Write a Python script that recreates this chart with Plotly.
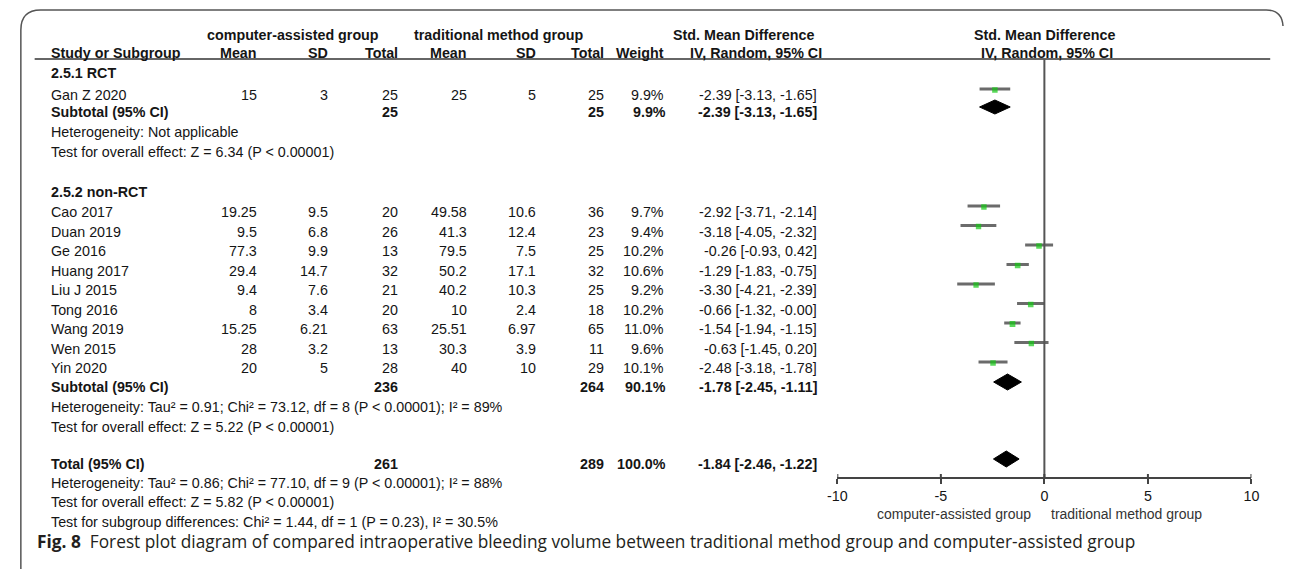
import plotly.graph_objects as go

# ---- data -------------------------------------------------------------
rct_names = ["Gan Z 2020"]
rct_mean_ca = [15]
rct_sd_ca = [3]
rct_n_ca = [25]
rct_mean_tr = [25]
rct_sd_tr = [5]
rct_n_tr = [25]
rct_weight = [9.9]
rct_smd = [-2.39]
rct_lo = [-3.13]
rct_hi = [-1.65]

nrct_names = ["Cao 2017", "Duan 2019", "Ge 2016", "Huang 2017", "Liu J 2015",
              "Tong 2016", "Wang 2019", "Wen 2015", "Yin 2020"]
nrct_mean_ca = [19.25, 9.5, 77.3, 29.4, 9.4, 8, 15.25, 28, 20]
nrct_sd_ca = [9.5, 6.8, 9.9, 14.7, 7.6, 3.4, 6.21, 3.2, 5]
nrct_n_ca = [20, 26, 13, 32, 21, 20, 63, 13, 28]
nrct_mean_tr = [49.58, 41.3, 79.5, 50.2, 40.2, 10, 25.51, 30.3, 40]
nrct_sd_tr = [10.6, 12.4, 7.5, 17.1, 10.3, 2.4, 6.97, 3.9, 10]
nrct_n_tr = [36, 23, 25, 32, 25, 18, 65, 11, 29]
nrct_weight = [9.7, 9.4, 10.2, 10.6, 9.2, 10.2, 11.0, 9.6, 10.1]
nrct_smd = [-2.92, -3.18, -0.26, -1.29, -3.30, -0.66, -1.54, -0.63, -2.48]
nrct_lo = [-3.71, -4.05, -0.93, -1.83, -4.21, -1.32, -1.94, -1.45, -3.18]
nrct_hi = [-2.14, -2.32, 0.42, -0.75, -2.39, -0.0, -1.15, 0.20, -1.78]

# pooled rows: RCT subtotal, non-RCT subtotal, overall total
pooled_labels = ["Subtotal (95% CI)", "Subtotal (95% CI)", "Total (95% CI)"]
pooled_n_ca = [25, 236, 261]
pooled_n_tr = [25, 264, 289]
pooled_weight = [9.9, 90.1, 100.0]
pooled_smd = [-2.39, -1.78, -1.84]
pooled_lo = [-3.13, -2.45, -2.46]
pooled_hi = [-1.65, -1.11, -1.22]

axis_ticks = [-10, -5, 0, 5, 10]

# ---- page geometry (pixels) -------------------------------------------
W, H = 1292, 569
ROW_RCT_STUDY = 95
ROW_NRCT_FIRST = 212
ROW_STEP = 19.5
ROW_POOLED = [112, 387, 464]
MARK_SHIFT = -6          # forest marks sit slightly above the text row centre
AXIS_Y = 478
COL_RIGHT = [253, 325, 395, 465, 535, 604, 665, 820]
TEXT_LEFT = 40
FONT = "Liberation Sans, Arial, sans-serif"
FS = 14.3
INK = "#151515"

rct_rows = [ROW_RCT_STUDY]
nrct_rows = [ROW_NRCT_FIRST + i * ROW_STEP for i in range(len(nrct_names))]

fig = go.Figure()
annotations = []
shapes = []


def txt(x, y, s, anchor="left", bold=False, size=FS, color=INK, family=FONT):
    annotations.append(dict(
        x=x, y=y, xref="x", yref="y", text=f"<b>{s}</b>" if bold else s,
        showarrow=False, xanchor=anchor, yanchor="middle",
        font=dict(family=family, size=size, color=color)))


def fmt(v):
    return f"{v:g}"


def ci_text(m, lo, hi):
    return f"{m:.2f} [{lo:.2f}, {hi:.2f}]"


# ---- headers ------------------------------------------------------------
txt(287, 35, "computer-assisted group", "center", True)
txt(495, 35, "traditional method group", "center", True)
txt(744, 35, "Std. Mean Difference", "center", True)
txt(1049, 35, "Std. Mean Difference", "center", True)
txt(TEXT_LEFT, 53, "Study or Subgroup", "left", True)
for x, lab in zip(COL_RIGHT[:7], ["Mean", "SD", "Total", "Mean", "SD", "Total", "Weight"]):
    txt(x, 53, lab, "right", True)
txt(757, 53, "IV, Random, 95% CI", "center", True)
txt(1052, 53, "IV, Random, 95% CI", "center", True)


# ---- study rows ---------------------------------------------------------
def study_block(rows, names, m1, s1, n1, m2, s2, n2, w, smd, lo, hi):
    for i, y in enumerate(rows):
        txt(TEXT_LEFT, y, names[i])
        vals = [fmt(m1[i]), fmt(s1[i]), fmt(n1[i]), fmt(m2[i]), fmt(s2[i]),
                fmt(n2[i]), f"{w[i]:.1f}%", ci_text(smd[i], lo[i], hi[i])]
        for x, v in zip(COL_RIGHT, vals):
            txt(x, y, v, "right")


txt(TEXT_LEFT, 73, "2.5.1 RCT", bold=True)
study_block(rct_rows, rct_names, rct_mean_ca, rct_sd_ca, rct_n_ca, rct_mean_tr,
            rct_sd_tr, rct_n_tr, rct_weight, rct_smd, rct_lo, rct_hi)
txt(TEXT_LEFT, 132, "Heterogeneity: Not applicable")
txt(TEXT_LEFT, 152, "Test for overall effect: Z = 6.34 (P &lt; 0.00001)")

txt(TEXT_LEFT, 192, "2.5.2 non-RCT", bold=True)
study_block(nrct_rows, nrct_names, nrct_mean_ca, nrct_sd_ca, nrct_n_ca, nrct_mean_tr,
            nrct_sd_tr, nrct_n_tr, nrct_weight, nrct_smd, nrct_lo, nrct_hi)
txt(TEXT_LEFT, 407, "Heterogeneity: Tau\u00b2 = 0.91; Chi\u00b2 = 73.12, df = 8 (P &lt; 0.00001); I\u00b2 = 89%")
txt(TEXT_LEFT, 427, "Test for overall effect: Z = 5.22 (P &lt; 0.00001)")

for j, y in enumerate(ROW_POOLED):
    txt(TEXT_LEFT, y, pooled_labels[j], bold=True)
    txt(COL_RIGHT[2], y, fmt(pooled_n_ca[j]), "right", True)
    txt(COL_RIGHT[5], y, fmt(pooled_n_tr[j]), "right", True)
    txt(COL_RIGHT[6] + 2, y, f"{pooled_weight[j]:.1f}%", "right", True)
    txt(COL_RIGHT[7], y, ci_text(pooled_smd[j], pooled_lo[j], pooled_hi[j]), "right", True)

txt(TEXT_LEFT, 483, "Heterogeneity: Tau\u00b2 = 0.86; Chi\u00b2 = 77.10, df = 9 (P &lt; 0.00001); I\u00b2 = 88%")
txt(TEXT_LEFT, 502, "Test for overall effect: Z = 5.82 (P &lt; 0.00001)")
txt(TEXT_LEFT, 522, "Test for subgroup differences: Chi\u00b2 = 1.44, df = 1 (P = 0.23), I\u00b2 = 30.5%")

# axis direction labels
txt(957, 514, "computer-assisted group", "center", size=14, color="#333")
txt(1132, 514, "traditional method group", "center", size=14, color="#333")

# caption
txt(25, 541, "<b>Fig. 8</b>  Forest plot diagram of compared intraoperative bleeding volume "
    "between traditional method group and computer-assisted group",
    "left", size=17.3, color="#231f20", family="Open Sans, Noto Sans, sans-serif")

# ---- forest marks -------------------------------------------------------
all_smd = rct_smd + nrct_smd
all_lo = rct_lo + nrct_lo
all_hi = rct_hi + nrct_hi
all_w = rct_weight + nrct_weight
all_rows = [r + MARK_SHIFT for r in rct_rows + nrct_rows]

cx, cy = [], []
for lo, hi, y in zip(all_lo, all_hi, all_rows):
    cx += [lo, hi, None]
    cy += [y, y, None]
fig.add_trace(go.Scatter(x=cx, y=cy, xaxis="x2", yaxis="y", mode="lines",
                         line=dict(color="#6b6b6b", width=3), hoverinfo="skip"))
fig.add_trace(go.Scatter(x=all_smd, y=[y + 1 for y in all_rows], xaxis="x2", yaxis="y",
                         mode="markers", hoverinfo="skip",
                         marker=dict(symbol="square", color="#14c814",
                                     size=[3 + 0.25 * w for w in all_w],
                                     line=dict(width=0))))

dx, dy = [], []
half_h = [7, 8, 8]
for m, lo, hi, y, hh in zip(pooled_smd, pooled_lo, pooled_hi, ROW_POOLED, half_h):
    yc = y + MARK_SHIFT + 1
    dx += [lo, m, hi, m, lo, None]
    dy += [yc, yc - hh, yc, yc + hh, yc, None]
fig.add_trace(go.Scatter(x=dx, y=dy, xaxis="x2", yaxis="y", mode="lines",
                         fill="toself", fillcolor="black",
                         line=dict(color="black", width=1), hoverinfo="skip"))

# ---- lines: frame, header rule, null line, tick tops ---------------------
shapes.append(dict(type="path", xref="x", yref="y",
                   path=f"M 11 {H} L 11 30 Q 11 10 31 10 L 1274 10 Q 1290 10 1291 26",
                   line=dict(color="#555", width=1.5)))
shapes.append(dict(type="line", xref="x", yref="y", x0=25, x1=1278, y0=59, y1=59,
                   line=dict(color="#333", width=1.5)))
shapes.append(dict(type="line", xref="x2", yref="y", x0=0, x1=0, y0=59, y1=AXIS_Y,
                   line=dict(color="#555", width=2)))
for t in axis_ticks:
    shapes.append(dict(type="line", xref="x2", yref="y", x0=t, x1=t, y0=AXIS_Y - 4,
                       y1=AXIS_Y, line=dict(color="#444", width=2)))

fig.update_layout(
    width=W, height=H, margin=dict(l=0, r=0, t=0, b=0),
    paper_bgcolor="white", plot_bgcolor="rgba(0,0,0,0)", showlegend=False,
    xaxis=dict(range=[0, W], domain=[0, 1], visible=False, fixedrange=True),
    yaxis=dict(range=[H, 0], domain=[0, 1], visible=False, fixedrange=True),
    xaxis2=dict(range=[-10, 10], domain=[839 / W, 1259 / W], anchor="free",
                position=1 - AXIS_Y / H, showline=True, linecolor="#444", linewidth=2,
                ticks="outside", ticklen=5, tickwidth=2, tickcolor="#444",
                tickvals=axis_ticks, ticktext=[str(t) for t in axis_ticks],
                tickfont=dict(family=FONT, size=14.3, color=INK),
                showgrid=False, zeroline=False, fixedrange=True),
    annotations=annotations, shapes=shapes,
)

fig.write_html("out.html")
